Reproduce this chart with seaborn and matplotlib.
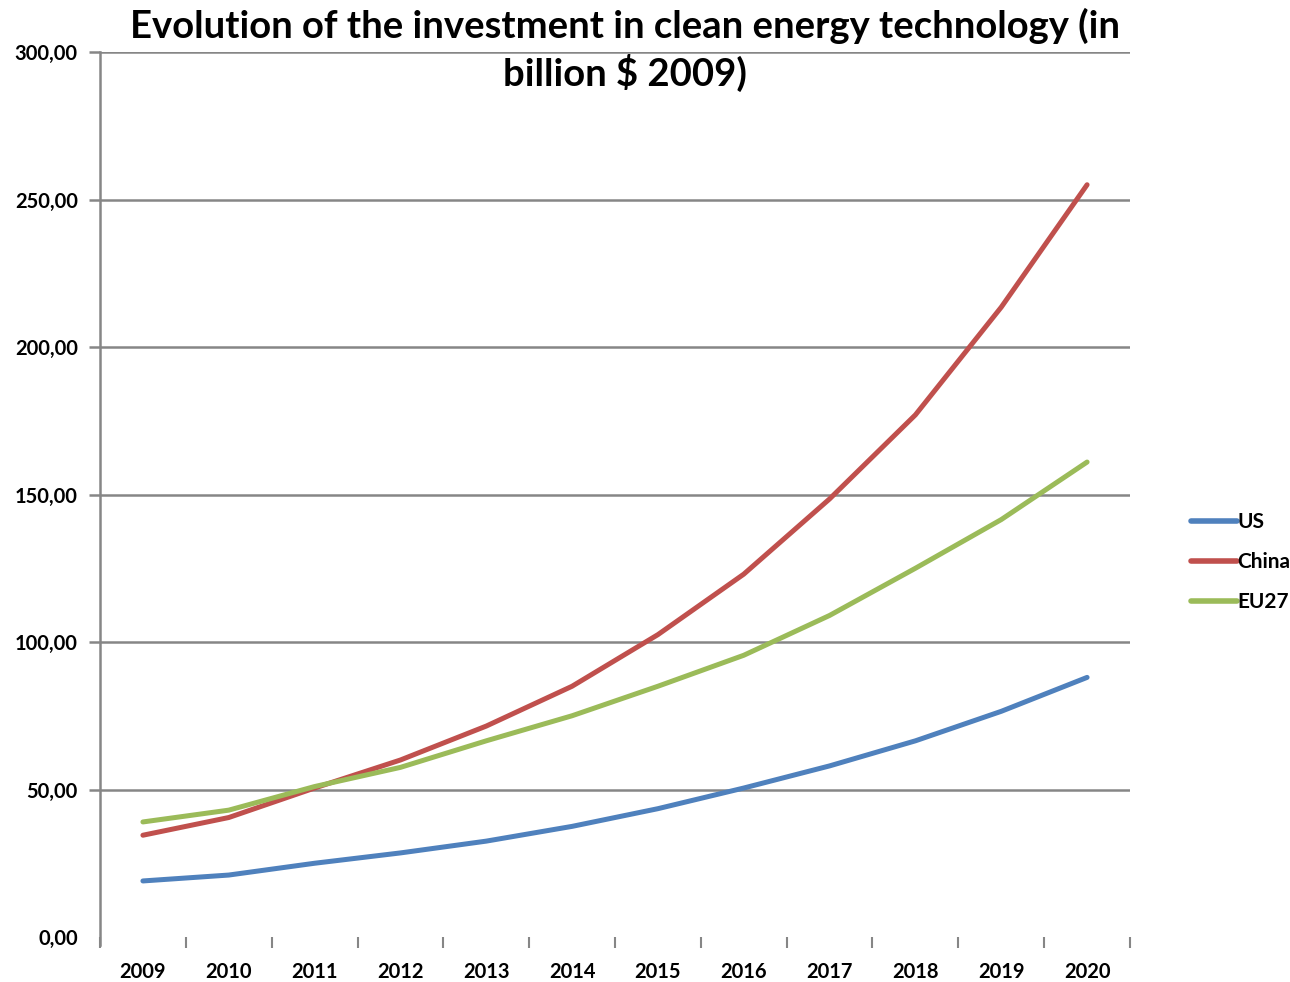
import pandas as pd
import matplotlib
matplotlib.use("Agg")
import matplotlib.pyplot as plt
import seaborn as sns

sns.set_style("white")
plt.rcParams['font.family'] = ['Lato', 'DejaVu Sans']
plt.rcParams['font.weight'] = 'bold'
plt.rcParams['text.color'] = 'black'
plt.rcParams['xtick.color'] = 'black'
plt.rcParams['ytick.color'] = 'black'

years = ['2009', '2010', '2011', '2012', '2013', '2014', '2015', '2016', '2017', '2018', '2019', '2020']
us = [19, 21, 25, 28.5, 32.5, 37.5, 43.5, 50.5, 58, 66.5, 76.5, 88]
china = [34.5, 40.5, 50.5, 60, 71.5, 85, 102.5, 123, 148.5, 177, 213.5, 255]
eu27 = [39, 43, 51, 57.5, 66.5, 75, 85, 95.5, 109, 125, 141.5, 161]
y_ticks = [0, 50, 100, 150, 200, 250, 300]

df = pd.DataFrame({'Year': years * 3,
                   'Value': us + china + eu27,
                   'Region': ['US'] * 12 + ['China'] * 12 + ['EU27'] * 12})

colors = {'US': '#4F81BD', 'China': '#C0504D', 'EU27': '#9BBB59'}
grid_col = '#868686'

fig = plt.figure(figsize=(12.9, 9.82), dpi=100)
ax = fig.add_axes([100 / 1290, 1 - 937 / 982, 1030 / 1290, 885 / 982])

sns.lineplot(data=df, x='Year', y='Value', hue='Region', palette=colors,
             linewidth=3.6, ax=ax, legend=False, zorder=3)

ax.set_xlim(-0.5, 11.5)
ax.set_ylim(0, 300)
ax.set_yticks(y_ticks)
ax.set_yticklabels([f"{v:.2f}".replace('.', ',') for v in y_ticks], fontsize=14.5, fontweight='bold')
ax.set_xticks(range(len(years)))
ax.set_xticklabels(years, fontsize=14.5, fontweight='bold')
ax.set_xticks([i - 0.5 for i in range(len(years) + 1)], minor=True)
ax.tick_params(axis='x', which='major', bottom=True, length=0, pad=18)
ax.tick_params(axis='x', which='minor', bottom=True, length=8, width=1.5, color=grid_col, direction='out')
ax.tick_params(axis='y', left=True, length=8, width=1.8, color=grid_col, direction='out', pad=8)
ax.yaxis.get_major_ticks()[0].tick1line.set_visible(False)

for v in y_ticks[1:]:
    ax.axhline(v, color=grid_col, linewidth=1.8, zorder=1)

for s in ['top', 'right', 'bottom']:
    ax.spines[s].set_visible(False)
ax.spines['left'].set_color(grid_col)
ax.spines['left'].set_linewidth(1.8)
ax.spines['left'].set_bounds(-2.7, 300)
ax.set_xlabel('')
ax.set_ylabel('')

handles = [plt.Line2D([0], [0], color=colors[k], linewidth=4, solid_capstyle='round') for k in ['US', 'China', 'EU27']]
fig.legend(handles, ['US', 'China', 'EU27'], loc='center left', bbox_to_anchor=(1172 / 1290, 1 - 562 / 982),
           frameon=False, handlelength=2.2, handletextpad=0.05, labelspacing=0.95,
           prop={'weight': 'bold', 'size': 15})

fig.text(625 / 1290, 1 - 8 / 982,
         'Evolution of the investment in clean energy technology (in\nbillion $ 2009)',
         ha='center', va='top', fontsize=27.5, fontweight='bold', linespacing=1.3)

fig.savefig('out.png', dpi=100)
